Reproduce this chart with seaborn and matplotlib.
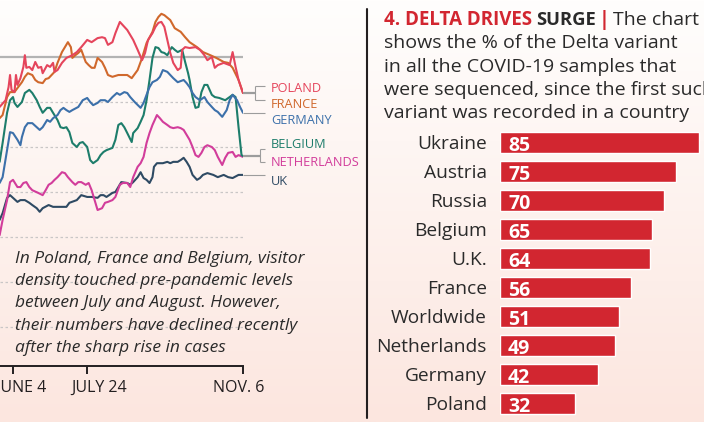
import numpy as np
import pandas as pd
import matplotlib
matplotlib.use("Agg")
import matplotlib.pyplot as plt
import matplotlib.dates as mdates
from matplotlib.lines import Line2D
from matplotlib.colors import LinearSegmentedColormap
import seaborn as sns

START = pd.Timestamp("2021-06-04")

# Visitor density relative to pre-pandemic level: (days after June 4, value)
poland = [(-9, -11.1), (-5, -9.6), (-3, -6.7), (-2, -4.0), (-1, -7.3), (1, -7.8), (2, -4.0), (3, -6.2),
          (5, -4.7), (7, -2.2), (8, 0.4), (9, -2.4), (11, -2.2), (13, -2.9), (15, -1.1), (17, -2.4),
          (19, -2.2), (20, -3.6), (23, -1.8), (25, -2.2), (27, -1.3), (28, -3.3), (30, -2.9), (33, -1.3),
          (36, -0.2), (40, 0.4), (43, 1.1), (46, 2.2), (50, 3.8), (53, 3.3), (57, 4.2), (60, 4.4),
          (62, 4.2), (64, 2.7), (67, 3.3), (69, 5.3), (72, 7.8), (77, 6.0), (81, 3.8), (84, 1.6),
          (87, -0.7), (89, 0.9), (91, 3.8), (94, 5.3), (96, 6.7), (98, 7.6), (100, 7.8), (102, 6.7),
          (104, 3.8), (106, 0.9), (108, -1.3), (111, -2.9), (113, -2.4), (114, 1.6), (116, 2.2),
          (119, 2.0), (123, 2.2), (126, 1.6), (129, 0.4), (131, -0.7), (134, 0.0), (136, -2.4),
          (138, -1.8), (142, -1.3), (146, -1.8), (148, 1.1), (150, -2.2), (152, -5.1), (155, -8.0)]

france = [(-9, -13.6), (-7, -12.9), (-4, -8.9), (-2, -7.8), (1, -7.8), (3, -6.9), (6, -5.6), (8, -4.4),
          (10, -3.6), (13, -4.0), (15, -5.1), (17, -5.6), (20, -5.8), (22, -4.9), (24, -4.7), (26, -4.0),
          (28, -3.3), (30, -1.3), (33, 1.1), (35, 2.2), (37, 3.3), (39, 2.2), (40, -0.2), (42, 0.4),
          (44, 0.9), (46, 1.6), (49, -1.1), (51, -1.8), (53, -2.4), (55, -2.4), (57, -0.2), (60, -1.1),
          (62, -2.4), (64, -4.0), (67, -4.4), (71, -4.0), (74, -4.0), (77, -4.0), (80, -4.7), (84, -2.9),
          (87, -0.2), (90, 3.1), (94, 5.6), (96, 7.8), (98, 8.9), (100, 9.6), (102, 9.3), (106, 8.2),
          (109, 6.4), (113, 5.6), (116, 4.4), (119, 3.3), (124, 2.2), (128, 1.1), (133, 0.4),
          (137, -0.2), (142, -1.1), (145, -1.3), (148, -2.4), (152, -5.1), (155, -8.0)]

germany = [(-9, -28.0), (-7, -26.7), (-4, -20.7), (-2, -16.7), (0, -16.9), (3, -18.4), (5, -19.6),
           (6, -17.8), (8, -15.6), (10, -14.7), (13, -14.7), (16, -15.6), (18, -16.2), (20, -15.6),
           (23, -14.0), (25, -14.4), (27, -13.6), (30, -12.9), (32, -11.8), (34, -11.3), (36, -11.8),
           (38, -12.2), (40, -11.8), (44, -11.1), (47, -9.6), (50, -9.1), (52, -10.0), (54, -10.7),
           (57, -10.2), (59, -9.6), (62, -9.6), (64, -10.0), (67, -8.9), (70, -8.0), (72, -8.4),
           (75, -7.8), (77, -8.0), (79, -8.9), (82, -10.0), (86, -11.3), (88, -10.2), (90, -8.4),
           (92, -6.7), (94, -5.6), (97, -5.1), (99, -4.4), (101, -2.9), (104, -3.3), (106, -4.0),
           (108, -4.7), (111, -5.6), (115, -5.1), (117, -5.8), (119, -6.7), (121, -8.0), (123, -8.9),
           (126, -9.6), (129, -8.9), (131, -10.0), (134, -11.1), (136, -11.8), (138, -12.2),
           (141, -13.3), (144, -11.8), (146, -9.6), (148, -8.4), (151, -9.6), (153, -11.1), (155, -12.4)]

belgium = [(-9, -23.3), (-7, -19.1), (-4, -12.4), (-2, -9.6), (0, -8.9), (1, -10.2), (3, -11.1),
           (6, -10.0), (8, -8.0), (11, -7.3), (13, -8.0), (16, -9.6), (18, -11.1), (20, -12.4),
           (23, -11.3), (25, -11.3), (27, -12.4), (30, -14.0), (32, -15.6), (34, -15.8), (36, -15.6),
           (38, -16.7), (40, -19.1), (43, -20.0), (45, -19.1), (47, -18.9), (50, -20.0), (52, -22.9),
           (54, -23.6), (57, -22.9), (59, -21.8), (61, -21.1), (63, -20.7), (67, -20.2), (69, -18.4),
           (71, -15.1), (73, -14.7), (75, -15.6), (77, -16.9), (80, -18.9), (81, -16.9), (84, -15.8),
           (86, -14.4), (88, -12.9), (90, -9.6), (92, -5.1), (94, -0.2), (96, 2.2), (98, 2.0),
           (100, 1.1), (102, 0.9), (104, 0.4), (107, 2.2), (109, 1.6), (111, 1.1), (114, 1.6),
           (116, -1.1), (118, -3.6), (119, -5.1), (121, -8.9), (123, -11.3), (125, -11.1), (127, -7.8),
           (129, -6.2), (131, -6.2), (134, -8.4), (136, -8.9), (139, -9.1), (143, -9.6), (146, -8.9),
           (148, -8.4), (150, -8.9), (152, -15.6), (154, -21.8), (155, -22.0)]

netherlands = [(-9, -39.6), (-7, -36.2), (-4, -31.8), (-2, -27.8), (0, -27.3), (3, -28.9), (5, -28.9),
               (7, -28.0), (9, -27.8), (11, -28.9), (13, -29.6), (17, -30.2), (20, -30.7), (22, -29.6),
               (24, -28.4), (26, -28.0), (28, -27.3), (30, -26.7), (33, -25.6), (35, -25.8), (37, -26.7),
               (40, -27.8), (42, -28.4), (44, -27.8), (46, -27.8), (49, -28.4), (51, -28.0), (53, -29.6),
               (55, -31.8), (57, -34.0), (60, -33.6), (62, -32.4), (64, -32.2), (67, -31.8), (69, -31.1),
               (72, -28.4), (74, -28.0), (77, -28.0), (79, -28.9), (81, -26.7), (84, -24.4), (86, -23.6),
               (88, -22.2), (90, -19.1), (92, -16.9), (94, -15.1), (97, -12.9), (99, -13.6), (101, -14.4),
               (104, -15.1), (106, -15.6), (108, -15.8), (111, -15.6), (113, -15.8), (115, -16.2),
               (117, -17.3), (119, -18.4), (121, -20.0), (123, -21.8), (125, -22.2), (127, -21.3),
               (129, -20.0), (131, -19.6), (134, -20.0), (136, -20.7), (138, -22.2), (141, -24.0),
               (143, -22.4), (145, -21.3), (148, -21.1), (150, -22.2), (152, -21.8), (155, -22.2)]

uk = [(-9, -36.2), (-7, -34.7), (-4, -31.3), (-2, -30.7), (0, -31.3), (3, -32.2), (5, -31.8), (8, -31.8),
      (11, -32.4), (13, -32.9), (16, -33.6), (18, -34.4), (20, -33.6), (24, -32.9), (27, -33.3),
      (32, -33.3), (36, -33.3), (38, -32.4), (43, -31.8), (46, -30.7), (50, -31.1), (53, -31.1),
      (57, -31.3), (59, -30.7), (61, -30.7), (63, -31.1), (67, -30.2), (69, -30.0), (71, -28.9),
      (73, -27.8), (77, -28.0), (79, -28.4), (81, -27.8), (84, -26.7), (86, -25.6), (88, -26.9),
      (90, -27.3), (92, -28.0), (94, -26.7), (95, -24.4), (97, -23.6), (99, -23.6), (101, -23.6),
      (104, -23.3), (106, -23.6), (108, -23.3), (111, -23.3), (113, -22.9), (115, -22.4), (117, -23.3),
      (119, -24.4), (121, -26.2), (124, -27.3), (126, -26.9), (128, -26.2), (131, -25.8), (135, -26.2),
      (138, -26.7), (142, -26.2), (145, -26.7), (148, -26.9), (152, -26.2), (155, -26.2)]

line_countries = ["UK", "Netherlands", "Belgium", "Germany", "France", "Poland"]
line_colors = {"Poland": "#e5455c", "France": "#d0682c", "Germany": "#3c70aa",
               "Belgium": "#1d7d6b", "Netherlands": "#d23d9b", "UK": "#2e4a63"}
legend_names = ["POLAND", "FRANCE", "GERMANY", "BELGIUM", "NETHERLANDS", "UK"]

tick_dates = ["2021-06-04", "2021-07-24", "2021-11-06"]
tick_labels = ["JUNE 4", "JULY 24", "NOV. 6"]

note_lines = ["In Poland, France and Belgium, visitor",
              "density touched pre-pandemic levels",
              "between July and August. However,",
              "their numbers have declined recently",
              "after the sharp rise in cases"]

delta_countries = ["Ukraine", "Austria", "Russia", "Belgium", "U.K.", "France",
                   "Worldwide", "Netherlands", "Germany", "Poland"]
delta_share = [85, 75, 70, 65, 64, 56, 51, 49, 42, 32]

title_segments = ["4. DELTA DRIVES", "SURGE", "|", "The chart"]
title_lines = ["shows the % of the Delta variant",
               "in all the COVID-19 samples that",
               "were sequenced, since the first such",
               "variant was recorded in a country"]

# ---------------------------------------------------------------- setup
sns.set_theme(style="white")
plt.rcParams["font.family"] = ["Open Sans", "DejaVu Sans"]

W, H = 704, 422
fig = plt.figure(figsize=(W / 100, H / 100), dpi=100)
DARK = "#231f20"
TEXT = "#2a2a2a"
RED = "#d22630"


def fx(x):
    return x / W


def fy(y):
    return 1 - y / H


# background gradient
bg = fig.add_axes([0, 0, 1, 1], zorder=-10)
grad = np.linspace(0, 1, 256).reshape(-1, 1)
cmap = LinearSegmentedColormap.from_list("bg", ["#fffefd", "#fce6df"])
bg.imshow(grad, aspect="auto", cmap=cmap, extent=[0, 1, 0, 1], origin="upper")
bg.axis("off")

# ---------------------------------------------------------------- line chart
series = {"Poland": poland, "France": france, "Germany": germany,
          "Belgium": belgium, "Netherlands": netherlands, "UK": uk}
rows = []
for name, pts in series.items():
    for d, v in pts:
        rows.append({"country": name, "date": START + pd.Timedelta(days=d), "value": v})
df = pd.DataFrame(rows)

ax = fig.add_axes([0, fy(366), fx(243), 366 / H])
ax.patch.set_alpha(0)
for v in [-10, -20, -30, -40, -50, -60]:
    ax.axhline(v, color="#c9c6c6", lw=0.9, ls=(0, (2, 2)), zorder=1)
ax.axhline(0, color="#b3b3b3", lw=1.6, zorder=1)

sns.lineplot(data=df, x="date", y="value", hue="country", hue_order=line_countries,
             palette=line_colors, linewidth=1.5, legend=False, estimator=None, ax=ax, zorder=3)

ax.set_xlim(START - pd.Timedelta(days=8.76), START + pd.Timedelta(days=155))
ax.set_ylim(-68.67, 12.67)
ax.set_xlabel("")
ax.set_ylabel("")
ax.set_yticks([])
for s in ["top", "left", "right"]:
    ax.spines[s].set_visible(False)
ax.spines["bottom"].set_color(DARK)
ax.spines["bottom"].set_linewidth(1.4)
tdates = [pd.Timestamp(d) for d in tick_dates]
ax.set_xticks(tdates)
ax.tick_params(axis="x", bottom=True, direction="out", length=6, width=1.4,
               color=DARK, labelbottom=False)
label_shift = [5.8, 8.3, -2.9]
for d, lab, dx in zip(tdates, tick_labels, label_shift):
    ax.annotate(lab, xy=(d, 0), xycoords=("data", "axes fraction"), xytext=(dx, -18.7),
                textcoords="offset points", ha="center", va="baseline",
                fontsize=11.5, color=DARK, annotation_clip=False)

# end labels and connectors
fig.canvas.draw()
renderer = fig.canvas.get_renderer()


def end_px(name):
    d, v = series[name][-1]
    x, y = ax.transData.transform((mdates.date2num(START + pd.Timedelta(days=d)), v))
    return x, H - y


CONN = "#9c9c9c"


def seg(xs, ys, lw=0.8):
    fig.add_artist(Line2D([fx(x) for x in xs], [fy(y) for y in ys], transform=fig.transFigure,
                          color=CONN, lw=lw, solid_capstyle="butt", zorder=2))


ex, ey = end_px("Poland")
seg([ex, 255], [ey, ey], 1.6)
seg([255, 255], [86, 100])
seg([255, 265], [86, 86])
seg([255, 265], [100, 100])
ex, ey = end_px("Germany")
seg([ex, 265], [ey, ey])
ex, ey1 = end_px("Belgium")
_, ey2 = end_px("Netherlands")
ey = (ey1 + ey2) / 2
seg([ex, 260], [ey, ey], 1.6)
seg([260, 260], [149, 162])
seg([260, 265], [149, 149])
seg([260, 265], [162, 162])
ex, ey = end_px("UK")
seg([ex, 265], [ey, ey])

label_y = [88, 104, 121, 144, 163, 181]
for name, lab, yy in zip(["Poland", "France", "Germany", "Belgium", "Netherlands", "UK"],
                         legend_names, label_y):
    fig.text(fx(271), fy(yy), lab, color=line_colors[name], fontsize=9.2, va="center", ha="left")

# note
for i, line in enumerate(note_lines):
    fig.text(fx(15), fy(263 + i * 22.2), line, fontsize=12.5, style="italic", color=TEXT,
             va="baseline", ha="left")

# divider
fig.add_artist(Line2D([fx(367), fx(367)], [fy(9), fy(418)], transform=fig.transFigure,
                      color=DARK, lw=1.5))

# ---------------------------------------------------------------- title (right)
seg_style = [(RED, "bold", 13.5), (TEXT, "bold", 13.2), (RED, "bold", 14), (TEXT, "normal", 14)]
seg_gap = [4, 3, 3, 0]
x = 384
for txt, (col, wt, fs), g in zip(title_segments, seg_style, seg_gap):
    t = fig.text(fx(x), fy(25), txt, color=col, fontweight=wt, fontsize=fs, va="baseline", ha="left")
    x += t.get_window_extent(renderer).width + g
for i, line in enumerate(title_lines):
    fig.text(fx(384), fy(48.5 + i * 23.3), line, color=TEXT, fontsize=14,
             va="baseline", ha="left")

# ---------------------------------------------------------------- bar chart
ax2 = fig.add_axes([fx(500), fy(417.9), 204 / W, (417.9 - 128) / H])
ax2.patch.set_alpha(0)
sns.barplot(x=delta_share, y=delta_countries, orient="h", color=RED, saturation=1,
            width=0.73, ax=ax2)
ax2.set_xlim(0, 87.14)
ax2.set_ylim(9.5, -0.5)
ax2.set_xticks([])
ax2.set_xlabel("")
ax2.set_ylabel("")
for s in ax2.spines.values():
    s.set_visible(False)
ax2.tick_params(axis="y", left=False, length=0, pad=9.4, labelsize=13.8, labelcolor=TEXT)
for i, v in enumerate(delta_share):
    ax2.annotate(str(v), xy=(0, i), xytext=(5.8, -6.3), textcoords="offset points",
                 ha="left", va="baseline", color="white", fontweight="bold", fontsize=14)

fig.savefig("out.png", dpi=100)
